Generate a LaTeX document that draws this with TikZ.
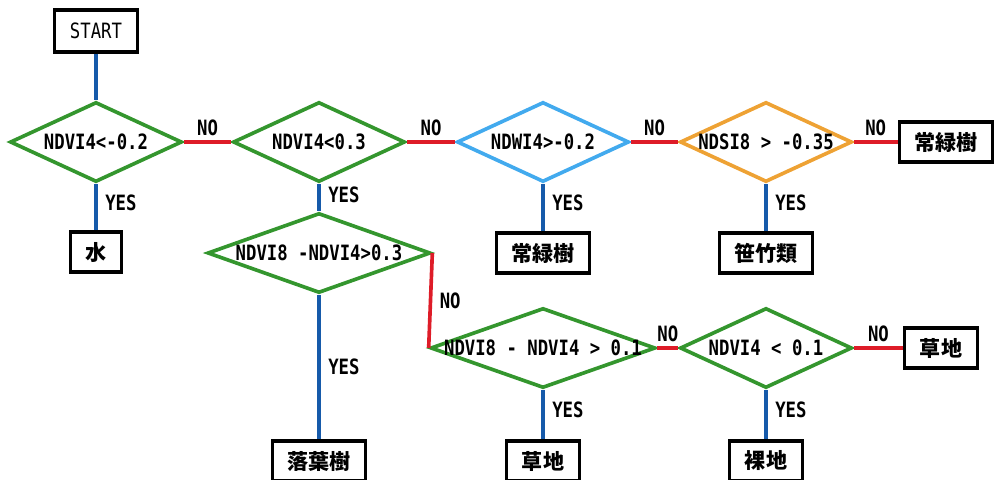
\documentclass[tikz,border=0pt]{standalone}
\usepackage{fontspec}
\usepackage{tikz}
\usetikzlibrary{shapes.geometric}

\newfontfamily\condfont[FakeStretch=0.82]{DejaVu Sans Mono}
\newfontfamily\jpfont{Noto Sans CJK JP}

\definecolor{dgreen}{RGB}{52,150,46}
\definecolor{lblue}{RGB}{66,170,238}
\definecolor{dorange}{RGB}{238,162,52}
\definecolor{lineblue}{RGB}{22,90,170}
\definecolor{linered}{RGB}{222,28,40}

\begin{document}
\begin{tikzpicture}[
        cond/.style n args={2}{diamond, draw=#1, line width=2.6pt, inner sep=0pt,
            minimum width=4.3cm, minimum height=2cm,
            label={[condtext]center:#2}},
        condtext/.style={font=\condfont\bfseries\fontsize{15}{16}\selectfont, inner sep=0pt},
        box/.style={draw, line width=2.3pt, inner xsep=0.38cm, minimum height=1cm,
            font=\jpfont\bfseries\fontsize{15}{16}\selectfont},
        yn/.style={font=\condfont\bfseries\fontsize{15}{16}\selectfont},
        yes/.style={draw=lineblue, line width=2.6pt},
        no/.style={draw=linered, line width=2.6pt}]
        \useasboundingbox (0,0) rectangle (24.875,-11.975);

        \node (S) [box, font=\condfont\fontsize{15}{16}\selectfont, minimum height=1.05cm] at (2.4,-0.775) {START};
        \node (D1) [below of = S, node distance=2.775cm, cond={dgreen}{NDVI4<-0.2}] {};
        \node (W) [below of = D1, node distance=2.75cm, box] {水};
        \node (D2) [right of = D1, node distance=5.575cm, cond={dgreen}{NDVI4<0.3}] {};
        \node (D3) [right of = D2, node distance=5.6cm, cond={lblue}{NDWI4>-0.2}] {};
        \node (D4) [right of = D3, node distance=5.575cm, cond={dorange}{NDSI8 > -0.35}] {};
        \node (E2) [right of = D4, node distance=4.5cm, box] {常緑樹};
        \node (E1) [below of = D3, node distance=2.775cm, box] {常緑樹};
        \node (B) [below of = D4, node distance=2.775cm, box] {笹竹類};
        % second row
        \node (D5) [below of = D2, node distance=2.775cm, cond={dgreen}{NDVI8 -NDVI4>0.3}, minimum width=5.575cm] {};
        \node (D6) [below of = D3, node distance=5.15cm, cond={dgreen}{NDVI8 - NDVI4 > 0.1}, minimum width=5.625cm] {};
        \node (D7) [right of = D6, node distance=5.575cm, cond={dgreen}{NDVI4 < 0.1}] {};
        \node (G2) [right of = D7, node distance=4.375cm, box] {草地};
        \node (L) [below of = D5, node distance=5.2cm, box] {落葉樹};
        \node (G1) [below of = D6, node distance=2.825cm, box] {草地};
        \node (R) [below of = D7, node distance=2.825cm, box] {裸地};

        \path (S) edge[yes] (D1);
        \path (D1) edge[yes] node[yn, right, pos=0.4, xshift=2pt] {YES} (W);
        \path (D1) edge[no] node[yn, above] {NO} (D2);
        %
        \path (D2) edge[no] node[yn, above] {NO} (D3);
        \path (D2) edge[yes] node[yn, right, pos=0.4, xshift=2pt] {YES} (D5);
        %
        \path (D3) edge[no] node[yn, above] {NO} (D4);
        \path (D3) edge[yes] node[yn, right, pos=0.4, xshift=2pt] {YES} (E1);
        %
        \path (D4) edge[no] node[yn, above] {NO} (E2);
        \path (D4) edge[yes] node[yn, right, pos=0.4, xshift=2pt] {YES} (B);
        %
        \path (D5) edge[yes] node[yn, right, xshift=2pt] {YES} (L);
        \path (D5.east) edge[no] node[yn, right, xshift=2pt] {NO} (D6.west);
        %
        \path (D6) edge[no] node[yn, above] {NO} (D7);
        \path (D6) edge[yes] node[yn, right, pos=0.4, xshift=2pt] {YES} (G1);
        %
        \path (D7) edge[no] node[yn, above] {NO} (G2);
        \path (D7) edge[yes] node[yn, right, pos=0.4, xshift=2pt] {YES} (R);
    \end{tikzpicture}
\end{document}
